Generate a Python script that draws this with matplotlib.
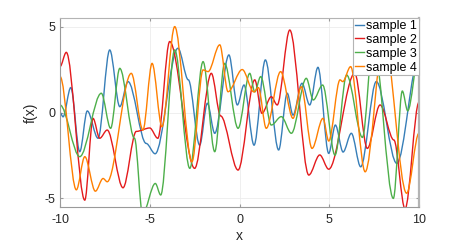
import numpy as np
import matplotlib
matplotlib.use("Agg")
import matplotlib.pyplot as plt
from matplotlib.path import Path
from matplotlib.patches import PathPatch

plt.rcParams['font.family'] = ['Liberation Sans', 'DejaVu Sans']
plt.rcParams['axes.unicode_minus'] = False

# puntos (extremos locales de cada muestra)
x1 = [-10.0, -9.83, -9.40, -8.90, -8.48, -7.88, -7.23, -6.67, -6.21, -5.20, -4.70,
      -3.43, -2.85, -2.22, -1.79, -1.38, -0.59, -0.12, 0.25, 0.81, 1.44, 2.18, 2.66,
      2.98, 3.48, 3.91, 4.37, 4.97, 5.34, 5.77, 6.23, 6.75, 7.62, 8.76, 10.0]
y1 = [0.0, -0.25, 1.45, -2.28, 0.09, -1.50, 3.64, 0.34, 1.80, -1.80, -2.40,
      3.74, 1.90, -1.90, 0.54, -1.21, 3.35, 0.44, 1.60, -1.90, 3.06, -2.18, 1.12,
      -0.15, 1.70, 0.44, 2.63, -2.38, -0.73, -2.30, -1.21, -3.16, 1.80, -2.96, 3.20]

x2 = [-10.0, -9.65, -8.62, -8.16, -7.79, -7.37, -6.49, -5.75, -5.00, -4.55, -3.89,
      -2.50, -1.57, -1.05, -0.08, 0.85, 1.25, 1.77, 2.10, 2.80, 3.86, 4.47, 4.97,
      6.42, 7.12, 7.83, 8.60, 9.22, 10.0]
y2 = [2.67, 3.50, -5.10, -0.34, -1.50, -1.02, -4.38, -1.10, -0.90, -1.50, 4.13,
      -3.25, 2.28, -0.20, -3.35, 1.90, -0.05, 0.92, 0.44, 4.80, -3.64, -2.47, -3.30,
      2.28, -2.09, 0.44, -1.60, -5.60, 0.60]

x3 = [-10.0, -8.90, -7.70, -7.18, -6.67, -5.85, -5.40, -4.69, -4.39, -3.61, -2.77,
      -2.03, -1.38, -0.83, -0.08, 0.57, 0.85, 1.18, 1.77, 2.33, 2.89, 3.72, 4.11,
      4.63, 5.32, 5.97, 6.85, 7.45, 8.57, 9.07, 9.37, 10.0]
y3 = [0.44, -2.57, 1.12, -0.92, 2.57, -1.50, -5.90, -4.13, -4.80, 3.64, -3.25,
      2.96, -2.28, 2.86, -0.92, 2.28, 1.20, 2.09, -0.73, -0.24, -1.21, 1.99, 0.73,
      1.60, -2.48, 2.18, -1.45, 4.20, -5.00, 1.25, 0.10, 3.40]

x4 = [-10.0, -9.09, -8.62, -8.03, -7.60, -7.37, -6.03, -5.38, -4.87, -4.32, -3.61,
      -2.65, -2.03, -1.75, -1.10, -0.64, 0.15, 0.80, 1.05, 1.49, 2.29, 2.98, 3.44,
      4.04, 4.65, 4.97, 5.60, 5.75, 6.19, 7.00, 8.05, 9.31, 10.0]
y4 = [2.10, -4.50, -2.57, -4.58, -3.84, -4.03, 2.28, -1.02, 2.86, -0.83, 5.00,
      -2.87, 2.48, 2.38, 3.94, 1.21, 2.50, 1.20, 1.45, -0.92, 2.38, -0.34, 1.50,
      -2.09, -0.34, -1.66, 1.90, 1.80, 2.67, -3.45, 4.30, -4.70, -1.20]

muestras = [(x1, y1, 'sample 1', '#377eb8'),
            (x2, y2, 'sample 2', '#e41a1c'),
            (x3, y3, 'sample 3', '#4daf4a'),
            (x4, y4, 'sample 4', '#ff7f00')]


def curva(xs, ys):
    # tramo bezier entre extremos con tangente horizontal en cada punto
    verts = [(xs[0], ys[0])]
    codes = [Path.MOVETO]
    for i in range(len(xs) - 1):
        dx = (xs[i + 1] - xs[i]) / 3.0
        verts += [(xs[i] + dx, ys[i]), (xs[i + 1] - dx, ys[i + 1]), (xs[i + 1], ys[i + 1])]
        codes += [Path.CURVE4] * 3
    return Path(verts, codes)


fig = plt.figure(figsize=(4.63, 2.42), dpi=100)
ax = fig.add_axes([0.1296, 0.1446, 0.7754, 0.781])

for xs, ys, nombre, color in muestras:
    ax.add_patch(PathPatch(curva(xs, ys), facecolor='none', edgecolor=color, lw=1.0))
    ax.plot([], [], color=color, lw=1.0, label=nombre)

ax.set_xlim(-10, 10)
ax.set_ylim(-5.5, 5.5)
ax.set_xticks([-10, -5, 0, 5, 10])
ax.set_yticks([-5, 0, 5])
ax.grid(True, color='#ececec', lw=0.6)
ax.set_axisbelow(True)
for lado in ['left', 'bottom']:
    ax.spines[lado].set_color('#9a9a9a')
for lado in ['top', 'right']:
    ax.spines[lado].set_color('#b4b4b4')
ax.spines['right'].set_linewidth(1.6)
ax.tick_params(direction='in', length=2.5, color='#9a9a9a', labelsize=9,
               labelcolor='#262626', top=True, right=True)
ax.tick_params(axis='x', pad=5)
ax.set_xlabel('x', fontsize=10, color='#262626', labelpad=2)
ax.set_ylabel('f(x)', fontsize=10, color='#262626', labelpad=5)

leg = ax.legend(loc='upper right', fontsize=9, borderaxespad=0, fancybox=False,
                handlelength=0.7, handletextpad=0.2, labelspacing=0.15,
                borderpad=0.15, framealpha=1)
leg.get_frame().set_edgecolor('#b4b4b4')
leg.get_frame().set_linewidth(0.8)

fig.savefig('out.png', dpi=100)
